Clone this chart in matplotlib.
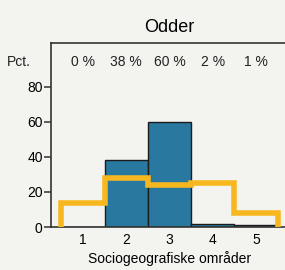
import numpy as np
import matplotlib.pyplot as plt

plt.rcParams['font.family'] = ['Liberation Sans', 'DejaVu Sans']

areas = [1, 2, 3, 4, 5]
pct = [0, 38, 60, 2, 1]          # bars (Odder)
ref = [14, 28, 24, 25, 8]        # yellow line (comparison)
labels = ['0 %', '38 %', '60 %', '2 %', '1 %']

bg = '#f3f3ef'
fig = plt.figure(figsize=(2.85, 2.7), dpi=100, facecolor=bg)
ax = fig.add_axes([0.179, 0.159, 0.83, 0.682], facecolor=bg)

ax.bar(areas, pct, width=1.0, color='#2878a0', edgecolor='#1c1c1c', linewidth=1.0, zorder=2)
edges = np.arange(0.5, 6.0, 1.0)
ax.stairs(ref, edges, baseline=0, color='#f7b81f', linewidth=4, zorder=3, clip_on=False)

for x, t in zip(areas, labels):
    ax.text(x, 94, t, ha='center', va='center', fontsize=10, color='#222222')
ax.text(-0.2, 94, 'Pct.', ha='right', va='center', fontsize=10, color='#222222')

ax.set_xlim(0.26, 5.73)
ax.set_ylim(0, 105)
ax.set_yticks([0, 20, 40, 60, 80])
ax.set_xticks(areas)
ax.tick_params(axis='y', length=5, width=1.1, color='#333333', labelsize=10, pad=1)
ax.tick_params(axis='x', length=0, labelsize=10, pad=4)
for s in ['left', 'top', 'bottom']:
    ax.spines[s].set_color('#333333')
    ax.spines[s].set_linewidth(1.2)
ax.spines['right'].set_visible(False)

ax.set_xlabel('Sociogeografiske områder', fontsize=10, labelpad=3)
ax.set_title('Odder', fontsize=13, pad=8)

fig.savefig('out.png', dpi=100, facecolor=bg)
